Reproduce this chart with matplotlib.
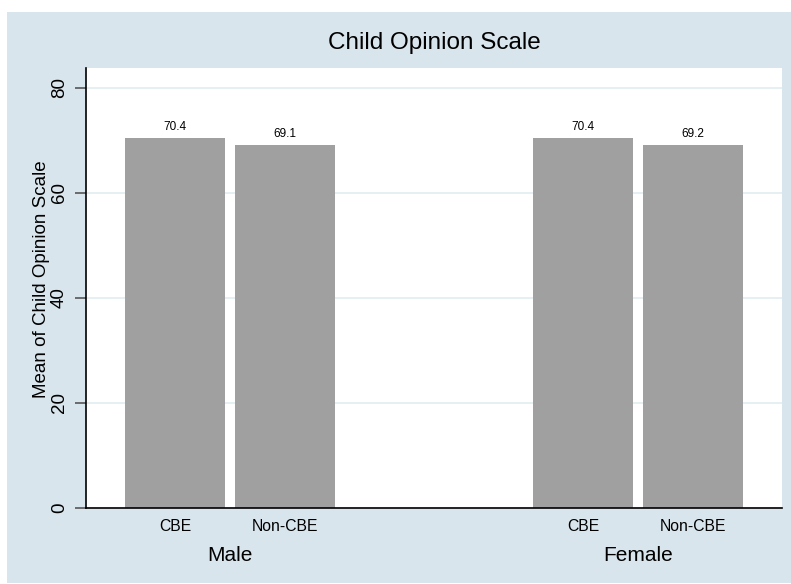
import matplotlib.pyplot as plt
from matplotlib.patches import Rectangle
from matplotlib.transforms import blended_transform_factory

groups = ['Male', 'Female']
programs = ['CBE', 'Non-CBE']
means = [70.4, 69.1, 70.4, 69.2]
bar_labels = ['70.4', '69.1', '70.4', '69.2']
positions = [0, 1.1, 4.08, 5.18]
yticks = [0, 20, 40, 60, 80]

plt.rcParams['font.family'] = ['Liberation Sans', 'DejaVu Sans']

W, H = 791, 584
fig = plt.figure(figsize=(W / 100, H / 100), dpi=100)
fig.patch.set_facecolor('white')

# stata style light blue background panel
fig.patches.append(Rectangle((7 / W, 1 / H), (W - 7) / W, 571 / H,
                             transform=fig.transFigure, facecolor='#d9e5ec',
                             edgecolor='none', zorder=-5))

ax = fig.add_axes([86 / W, 76 / H, 696 / W, 440 / H])
ax.set_zorder(2)
ax.set_facecolor('white')

ax.bar(positions, means, width=1.0, color='#a0a0a0', zorder=2)
for x, v, lab in zip(positions, means, bar_labels):
    ax.annotate(lab, (x, v), xytext=(0, 3.5), textcoords='offset points',
                ha='center', va='bottom', fontsize=8.5)

ax.set_xlim(-0.89, 6.07)
ax.set_ylim(0, 83.8)
ax.set_yticks(yticks)
ax.set_yticklabels([str(t) for t in yticks], rotation=90, va='center', fontsize=13.5)
ax.set_xticks(positions)
ax.set_xticklabels(programs * 2, fontsize=11.3)
ax.tick_params(axis='x', length=0, pad=8)
ax.tick_params(axis='y', length=8, width=1.2, color='#555555', pad=5)
ax.yaxis.grid(True, color='#e4eef1', linewidth=1.3, zorder=0)
ax.set_axisbelow(True)

for s in ['top', 'right']:
    ax.spines[s].set_visible(False)
ax.spines['left'].set_linewidth(1.2)
ax.spines['bottom'].set_linewidth(1.2)

ax.set_ylabel('Mean of Child Opinion Scale', fontsize=13.5, va='center')
ax.yaxis.set_label_coords(-0.064, 0.52)
ax.set_title('Child Opinion Scale', fontsize=17.5, pad=14)

trans = blended_transform_factory(ax.transData, ax.transAxes)
for i, g in enumerate(groups):
    cx = (positions[2 * i] + positions[2 * i + 1]) / 2
    ax.text(cx, -0.107, g, transform=trans, ha='center', va='center', fontsize=15)

plt.savefig('out.png', dpi=100)
